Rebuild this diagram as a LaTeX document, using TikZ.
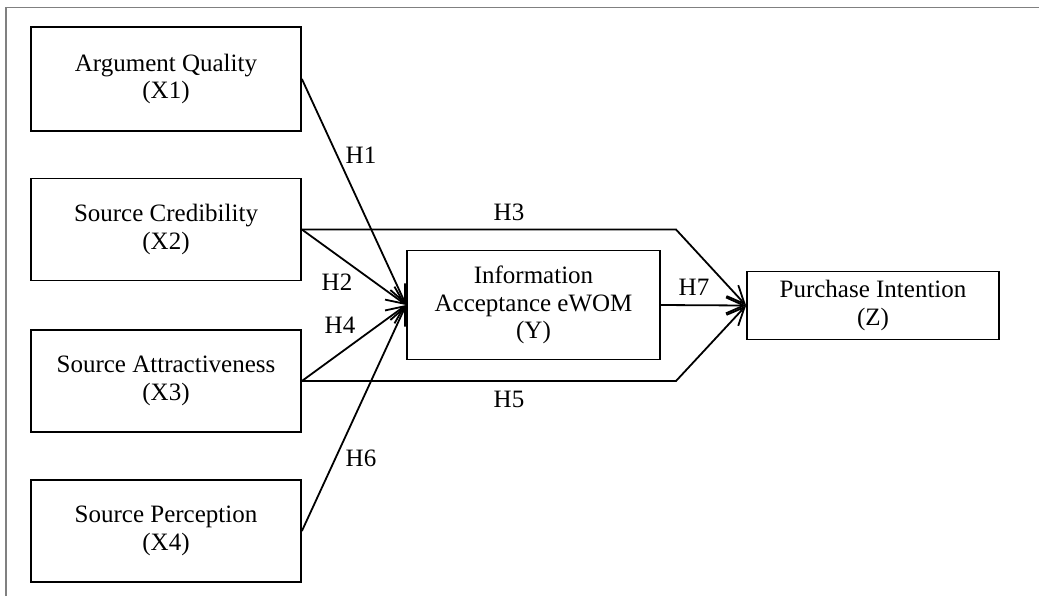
\documentclass[tikz,border=0pt]{standalone}
\usepackage{fontspec}
\setmainfont{Liberation Serif}
\usetikzlibrary{arrows.meta}
\tikzset{
  varbox/.style={draw,line width=0.9pt,align=center,inner sep=0pt,
    font=\fontsize{12.5}{13.75}\selectfont},
  hyp/.style={inner sep=0pt,font=\fontsize{12.5}{13.75}\selectfont},
  link/.style={line width=0.9pt,-{Straight Barb[length=9pt,width=8pt]}}
}
\begin{document}
\begin{tikzpicture}[x=0.5pt,y=-0.5pt]
			\useasboundingbox (0,0) rectangle (1039,596);
			\draw[gray,line width=0.8pt] (6,596) -- (6,7.5) -- (1039,7.5);
			% independent variables
			\node[varbox,minimum width=135pt,minimum height=52pt] (x1) at (166,79) {Argument Quality\\(X1)};
			\node[varbox,minimum width=135pt,minimum height=51pt] (x2) at (166,229.5) {Source Credibility\\(X2)};
			\node[varbox,minimum width=135pt,minimum height=51pt] (x3) at (166,381) {Source Attractiveness\\(X3)};
			\node[varbox,minimum width=135pt,minimum height=51pt] (x4) at (166,531) {Source Perception\\(X4)};
			% mediator and outcome
			\node[varbox,minimum width=126.5pt,minimum height=54.5pt] (y) at (533.5,305) {Information\\Acceptance eWOM\\(Y)};
			\node[varbox,minimum width=126pt,minimum height=34pt] (z) at (873,305.5) {Purchase Intention\\(Z)};
			\coordinate (bendA) at (676,229.5);
			\coordinate (bendB) at (676,381);
			\draw[link] (x1.east) -- (y.west);
			\draw[link] (x2.east) -- (y.west);
			\draw[link] (x3.east) -- (y.west);
			\draw[link] (x4.east) -- (y.west);
			\draw[link] (x2.east) -- (bendA) -- (z.west);
			\draw[link] (x3.east) -- (bendB) -- (z.west);
			\draw[link] (y.east) -- (z.west);
			% hypotheses
			\node[hyp] (h1) at (361,155) {H1};
			\node[hyp] (h2) at (337,282) {H2};
			\node[hyp] (h3) at (509,212) {H3};
			\node[hyp] (h4) at (340,325) {H4};
			\node[hyp] (h5) at (509,399) {H5};
			\node[hyp] (h6) at (361,458) {H6};
			\node[hyp] (h7) at (694,287) {H7};
		\end{tikzpicture}
\end{document}
